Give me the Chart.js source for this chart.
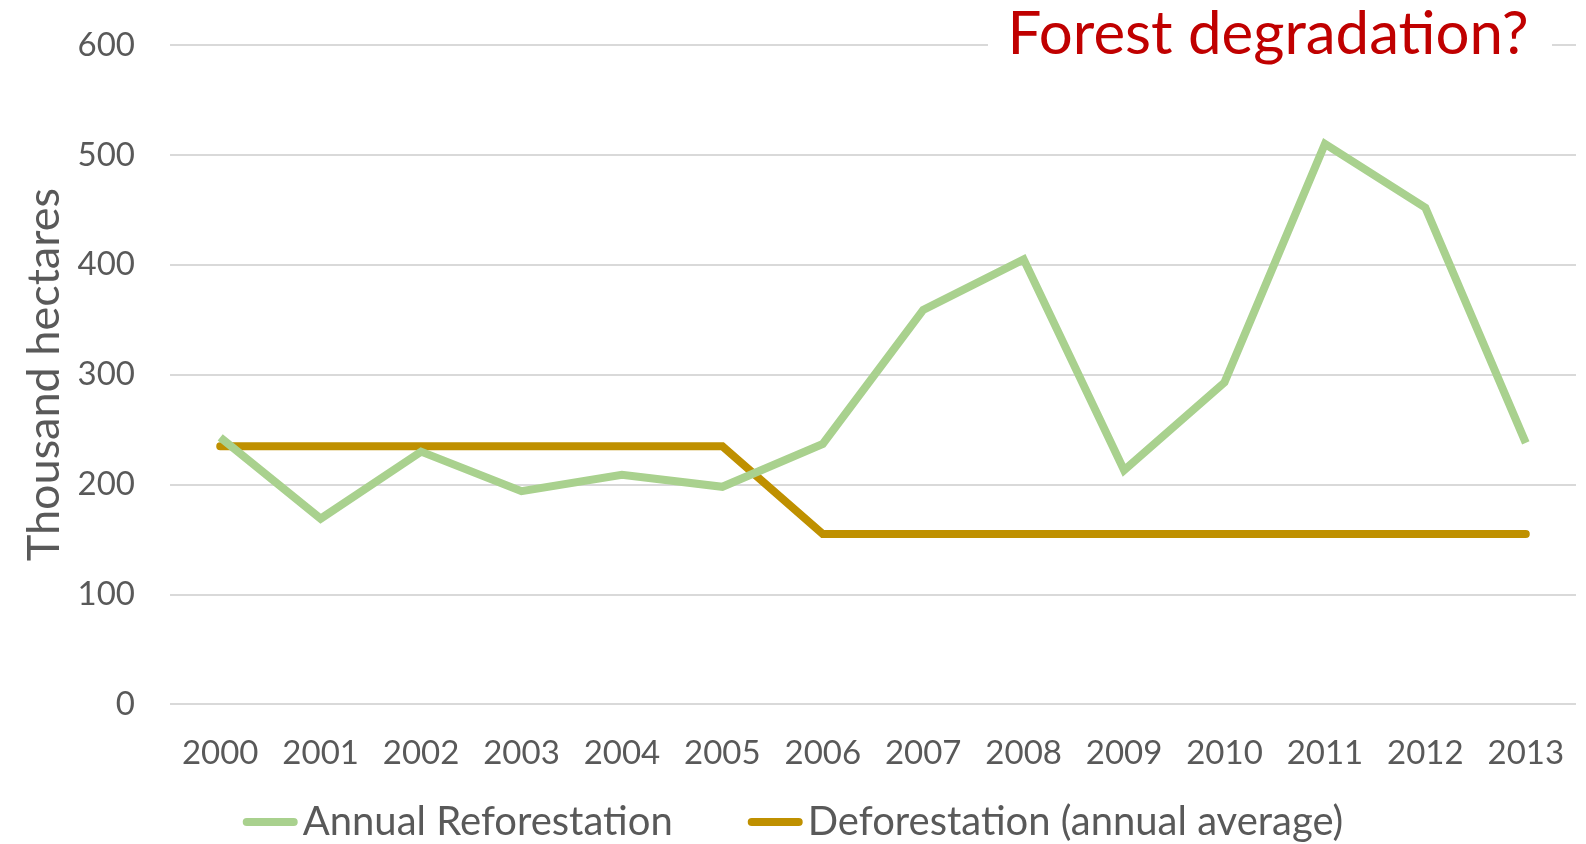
<!DOCTYPE html>
<html>
<head>
<meta charset="utf-8">
<script src="https://cdn.jsdelivr.net/npm/chart.js@4"></script>
<style>
  html, body { margin: 0; padding: 0; background: #fff; }
  #wrap { width: 1586px; height: 844px; }
</style>
</head>
<body>
<div id="wrap"><canvas id="forestChart" width="1586" height="844"></canvas></div>
<script>
const years = ['2000', '2001', '2002', '2003', '2004', '2005', '2006', '2007', '2008', '2009', '2010', '2011', '2012', '2013'];
const reforestation = [243, 169, 230, 194, 209, 198, 237, 359, 405, 213, 293, 510, 452, 238];
const deforestation = [235, 235, 235, 235, 235, 235, 155, 155, 155, 155, 155, 155, 155, 155];
const yTicks = [0, 100, 200, 300, 400, 500, 600];

const FONT = "Lato, 'Open Sans', sans-serif";
Chart.defaults.font.family = FONT;
Chart.defaults.color = '#595959';

// red note in the top right corner, on a white patch over the gridline
const notePlugin = {
  id: 'note',
  afterDraw(chart) {
    const c = chart.ctx;
    c.save();
    c.fillStyle = '#ffffff';
    c.fillRect(988, 0, 564, 70);
    c.font = "60px " + FONT;
    c.fillStyle = '#C00000';
    c.textAlign = 'center';
    c.textBaseline = 'alphabetic';
    c.fillText('Forest degradation?', 1268, 54);
    c.restore();
  }
};

// legend drawn by hand: short thick line right against the label text
const legendPlugin = {
  id: 'tightLegend',
  afterDraw(chart) {
    const c = chart.ctx;
    const sample = 55, gap = 5, itemGap = 75, y = 822;
    c.save();
    c.font = "40px " + FONT;
    c.textBaseline = 'middle';
    const items = chart.data.datasets.map(ds => ({ text: ds.label, color: ds.borderColor, w: c.measureText(ds.label).width }));
    let total = items.reduce((s, it) => s + sample + gap + it.w, 0) + itemGap * (items.length - 1);
    let x = (chart.width - total) / 2;
    items.forEach(it => {
      c.strokeStyle = it.color;
      c.lineWidth = 8;
      c.lineCap = 'round';
      c.beginPath();
      c.moveTo(x + 4, y);
      c.lineTo(x + sample - 4, y);
      c.stroke();
      c.fillStyle = '#595959';
      c.fillText(it.text, x + sample + gap, y);
      x += sample + gap + it.w + itemGap;
    });
    c.restore();
  }
};

new Chart(document.getElementById('forestChart'), {
  type: 'line',
  data: {
    labels: years,
    datasets: [{
      label: 'Annual Reforestation',
      data: reforestation,
      borderColor: '#A9D18E',
      backgroundColor: '#A9D18E',
      borderWidth: 8,
      pointRadius: 0,
      tension: 0
    }, {
      label: 'Deforestation (annual average)',
      data: deforestation,
      borderColor: '#BF9000',
      backgroundColor: '#BF9000',
      borderWidth: 8,
      pointRadius: 0,
      borderCapStyle: 'round',
      tension: 0
    }]
  },
  options: {
    responsive: false,
    animation: false,
    layout: { padding: { top: 45, right: 10, left: 13, bottom: 50 } },
    plugins: {
      tooltip: { enabled: false },
      legend: { display: false }
    },
    scales: {
      x: {
        offset: true,
        grid: { display: false },
        border: { display: false },
        ticks: { font: { size: 33 }, color: '#595959', padding: 21, maxRotation: 0 }
      },
      y: {
        min: 0,
        max: 600,
        afterBuildTicks(axis) { axis.ticks = yTicks.map(v => ({ value: v })); },
        afterFit(axis) {
          axis.width = 157;
          axis.paddingTop = 0;
          axis.paddingBottom = 0;
        },
        grid: { color: '#D9D9D9', lineWidth: 2, drawTicks: false },
        border: { display: false },
        ticks: { font: { size: 33 }, color: '#595959', padding: 35 },
        title: { display: true, text: 'Thousand hectares', font: { size: 45 }, color: '#595959', padding: 4 }
      }
    }
  },
  plugins: [notePlugin, legendPlugin]
});
</script>
</body>
</html>
